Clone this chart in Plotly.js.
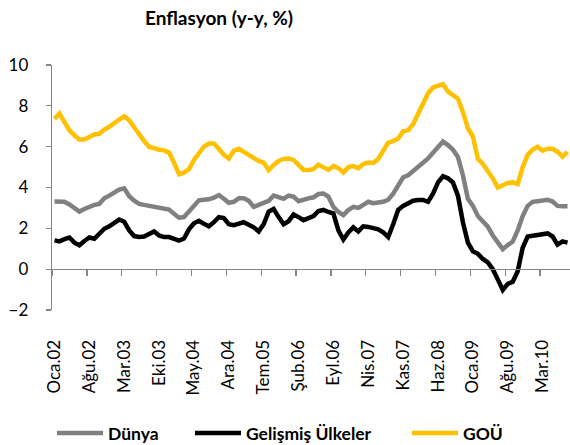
<!DOCTYPE html>
<html>
<head>
<meta charset="utf-8">
<script src="https://cdn.plot.ly/plotly-3.0.1.min.js"></script>
<style>html,body{margin:0;padding:0;background:#fff;}#chart{width:570px;height:445px;}</style>
</head>
<body>
<div id="chart"></div>
<script>
// Month abbreviations (Turkish) and year range used to build the category axis
const monthNames = ["Oca","Şub","Mar","Nis","May","Haz","Tem","Ağu","Eyl","Eki","Kas","Ara"];
const startYear = 2002;
const nMonths = 104; // Oca.02 .. Ağu.10

const categories = [];
for (let i = 0; i < nMonths; i++) {
  const y = startYear + Math.floor(i / 12);
  categories.push(monthNames[i % 12] + "." + String(y % 100).padStart(2, "0"));
}

// Tick labels shown on the axis (every 7th month)
const tickLabels = ["Oca.02","Ağu.02","Mar.03","Eki.03","May.04","Ara.04","Tem.05","Şub.06","Eyl.06","Nis.07","Kas.07","Haz.08","Oca.09","Ağu.09","Mar.10"];

// Series values (y-y inflation, %)
const dunya = [
  3.31,3.31,3.30,3.17,2.98,2.82,2.95,3.08,3.15,3.20,
  3.47,3.60,3.75,3.90,3.96,3.57,3.35,3.20,3.15,3.10,
  3.08,3.05,2.98,2.92,2.71,2.52,2.55,2.80,3.10,3.37,
  3.40,3.42,3.50,3.63,3.45,3.25,3.30,3.47,3.47,3.35,
  3.05,3.15,3.25,3.35,3.60,3.55,3.45,3.60,3.55,3.33,
  3.42,3.47,3.52,3.68,3.70,3.55,3.05,2.80,2.65,2.90,
  3.05,3.00,3.15,3.30,3.23,3.25,3.30,3.40,3.70,4.10,
  4.50,4.60,4.80,5.05,5.27,5.42,5.70,5.97,6.25,6.08,
  5.85,5.50,4.60,3.45,3.10,2.60,2.35,2.08,1.65,1.30,
  0.98,1.18,1.35,1.90,2.60,3.10,3.30,3.33,3.37,3.40,
  3.31,3.10,3.08,3.08
];
const gelismis = [
  1.41,1.36,1.47,1.55,1.30,1.17,1.38,1.55,1.49,1.70,
  1.98,2.10,2.25,2.43,2.32,1.90,1.62,1.58,1.60,1.74,
  1.85,1.65,1.57,1.57,1.48,1.40,1.50,1.95,2.25,2.37,
  2.22,2.10,2.30,2.55,2.50,2.20,2.15,2.22,2.30,2.18,
  2.05,1.85,2.20,2.82,2.95,2.55,2.20,2.35,2.68,2.55,
  2.40,2.50,2.60,2.85,2.90,2.80,2.72,1.90,1.45,1.80,
  2.05,1.85,2.10,2.07,2.03,1.95,1.80,1.57,2.20,2.90,
  3.10,3.20,3.35,3.39,3.39,3.30,3.70,4.25,4.55,4.45,
  4.25,3.60,2.30,1.30,0.88,0.75,0.50,0.33,0.00,-0.50,
  -1.02,-0.72,-0.62,-0.10,1.05,1.60,1.65,1.65,1.72,1.75,
  1.60,1.20,1.36,1.30
];
const gou = [
  7.36,7.62,7.20,6.80,6.55,6.35,6.35,6.45,6.60,6.63,
  6.84,6.97,7.17,7.33,7.49,7.29,6.95,6.60,6.27,6.00,
  5.90,5.85,5.82,5.71,5.22,4.65,4.73,4.90,5.35,5.70,
  6.00,6.15,6.15,5.90,5.60,5.42,5.80,5.90,5.75,5.65,
  5.45,5.30,5.22,4.85,5.10,5.30,5.40,5.42,5.35,5.10,
  4.86,4.86,4.90,5.12,5.00,4.86,5.05,4.95,4.73,5.00,
  5.05,4.95,5.15,5.22,5.20,5.40,5.80,6.20,6.27,6.40,
  6.75,6.80,7.10,7.65,8.15,8.62,8.90,9.00,9.06,8.70,
  8.55,8.35,7.70,6.90,6.50,5.40,5.15,4.80,4.45,4.00,
  4.12,4.22,4.25,4.17,5.00,5.60,5.85,6.00,5.80,5.90,
  5.90,5.75,5.51,5.74
];
const seriesNames = ["Dünya", "Gelişmiş Ülkeler", "GOÜ"];
const yTicks = [-2, 0, 2, 4, 6, 8, 10];

const FONT = "Lato, 'Open Sans', 'DejaVu Sans', sans-serif";
const AXIS_COLOR = "#868686";
const catIndex = categories.map((_, i) => i);
const boundaryTicks = tickLabels.map(l => categories.indexOf(l) - 0.5);

const lineTrace = (y, name, color, legendId) => ({
  type: "scatter", mode: "lines", x: categories, y: y, name: name,
  line: { color: color, width: 4.5, shape: "linear" },
  legend: legendId, hoverinfo: "x+y+name"
});

const traces = [
  lineTrace(dunya, seriesNames[0], "#808080", "legend"),
  lineTrace(gelismis, seriesNames[1], "#000000", "legend2"),
  lineTrace(gou, seriesNames[2], "#FFC000", "legend3"),
  // invisible helper trace carrying the boundary tick axis (y = 0 line)
  { type: "scatter", mode: "lines", x: catIndex, y: catIndex.map(() => null),
    xaxis: "x2", yaxis: "y", showlegend: false, hoverinfo: "skip" }
];

const legendBase = (xPx) => ({
  orientation: "h", xref: "container", yref: "container",
  x: xPx / 570, y: 1 - 433 / 445, xanchor: "left", yanchor: "middle",
  bgcolor: "rgba(0,0,0,0)", itemwidth: 46,
  font: { family: FONT, size: 17.5, color: "#000", weight: 700 }
});

const layout = {
  width: 570, height: 445,
  margin: { l: 52, r: 0, t: 65, b: 135 },
  paper_bgcolor: "#ffffff", plot_bgcolor: "#ffffff",
  font: { family: FONT, color: "#000" },
  title: {
    text: "Enflasyon (y-y, %)",
    font: { family: FONT, size: 19, color: "#000", weight: 700 },
    xref: "container", yref: "container",
    x: 219 / 570, xanchor: "center", y: 1 - 18 / 445, yanchor: "middle"
  },
  xaxis: {
    type: "category", categoryorder: "array", categoryarray: categories,
    range: [-0.5, nMonths - 0.5],
    tickmode: "array", tickvals: tickLabels, ticktext: tickLabels,
    tickangle: -90, ticks: "outside", ticklen: 22, tickcolor: "rgba(0,0,0,0)",
    showline: false, showgrid: false, zeroline: false,
    tickfont: { family: FONT, size: 17, color: "#000" }
  },
  xaxis2: {
    type: "linear", overlaying: "x", anchor: "free", position: 2 / 12, side: "bottom",
    range: [-0.5, nMonths - 0.5],
    tickmode: "array", tickvals: boundaryTicks, showticklabels: false,
    ticks: "outside", ticklen: 6, tickwidth: 1.3, tickcolor: AXIS_COLOR,
    showline: true, linecolor: AXIS_COLOR, linewidth: 1.3,
    showgrid: false, zeroline: false
  },
  yaxis: {
    range: [-2, 10], tickmode: "array", tickvals: yTicks,
    ticks: "outside", ticklen: 5, tickwidth: 1.3, tickcolor: AXIS_COLOR,
    showline: true, linecolor: AXIS_COLOR, linewidth: 1.3,
    showgrid: false, zeroline: false, ticklabelstandoff: 14,
    tickfont: { family: FONT, size: 17, color: "#000" }
  },
  legend: legendBase(52),
  legend2: legendBase(190),
  legend3: legendBase(407),
  showlegend: true
};

Plotly.newPlot("chart", traces, layout, { displayModeBar: false, staticPlot: true });
</script>
</body>
</html>
